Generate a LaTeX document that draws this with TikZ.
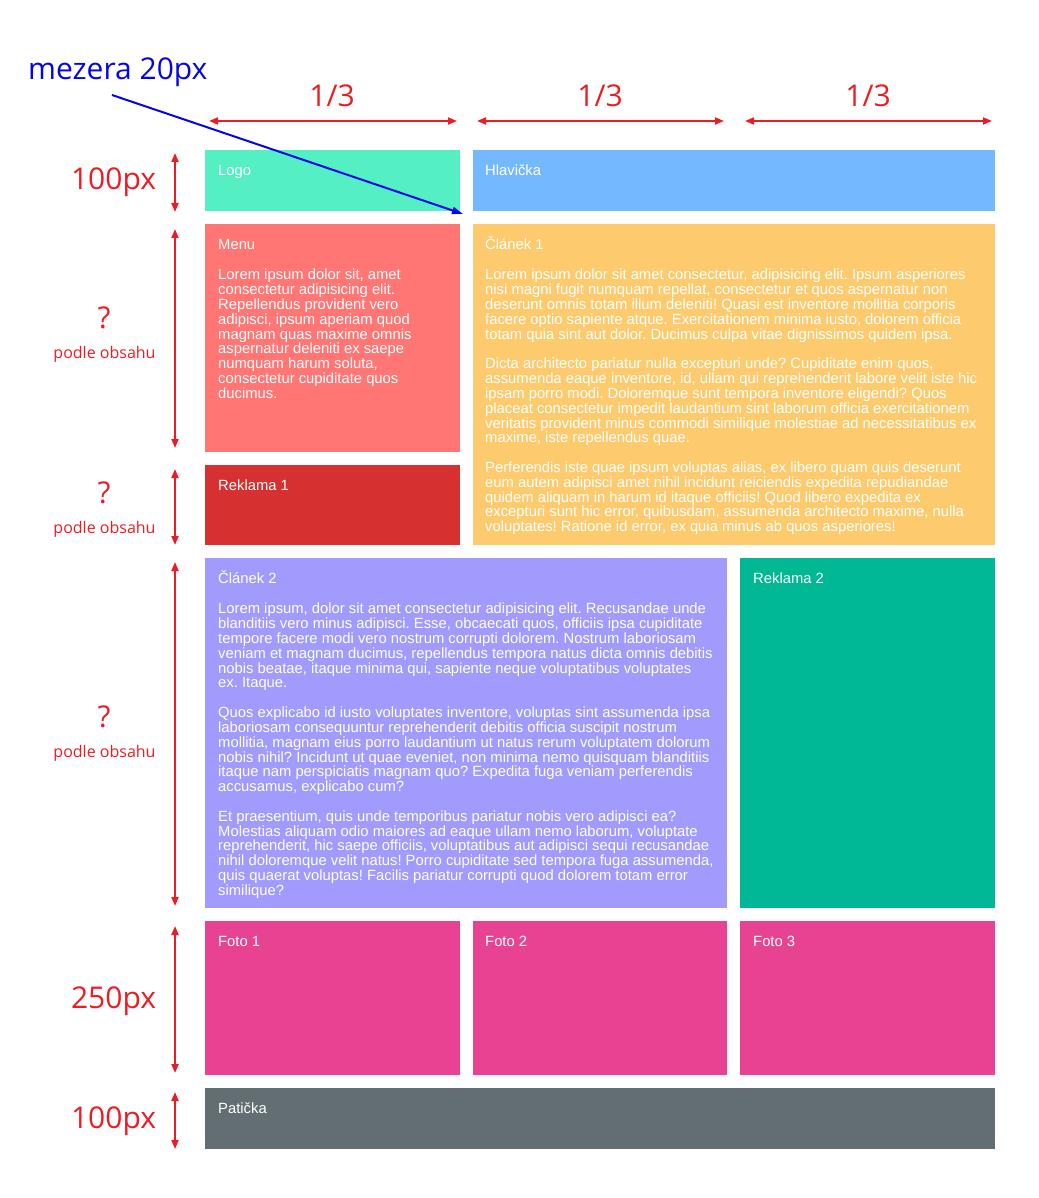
\documentclass[tikz,border=0pt]{standalone}
\usepackage{fontspec}
\setmainfont{Liberation Sans}
\newfontfamily\annot{Open Sans}
\usetikzlibrary{arrows.meta}
\frenchspacing
\definecolor{cLogo}{HTML}{55EFC4}
\definecolor{cHead}{HTML}{74B9FF}
\definecolor{cMenu}{HTML}{FF7675}
\definecolor{cArtA}{HTML}{FDCB6E}
\definecolor{cAdA}{HTML}{D63031}
\definecolor{cArtB}{HTML}{A29BFE}
\definecolor{cAdB}{HTML}{00B894}
\definecolor{cFoto}{HTML}{E84393}
\definecolor{cFoot}{HTML}{636E72}
\definecolor{annred}{HTML}{ED1C24}
\definecolor{annblue}{RGB}{5,5,235}
\tikzset{
  box/.style={draw=none, inner sep=0pt, outer sep=0pt, anchor=north west},
  boxtitle/.style={anchor=base west, inner sep=0pt, text=white, font=\frenchspacing\fontsize{14.8}{14.83}\selectfont},
  boxbody/.style={anchor=north west, inner sep=0pt, text=white, align=left, font=\frenchspacing\fontsize{14.8}{14.83}\selectfont},
  dimarrow/.style={draw=annred, line width=2pt, {Triangle[length=9pt,width=7pt]}-{Triangle[length=9pt,width=7pt]}},
  bigann/.style={anchor=base, inner sep=0pt, text=annred, font=\annot\fontsize{30}{32}\selectfont},
  smallann/.style={anchor=base, inner sep=0pt, text=annred, font=\annot\fontsize{16}{18}\selectfont},
}
\newcommand{\fst}{\rule{0pt}{11pt}}
\newcommand{\pgap}{\\[14.83pt]}
\begin{document}
\begin{tikzpicture}[x=1pt,y=-1pt]
\useasboundingbox (0,0) rectangle (1038,1198);
% boxes
\node[box, fill=cLogo, minimum width=255pt, minimum height=61pt] (logo) at (205,150) {};
\node[box, fill=cHead, minimum width=522pt, minimum height=61pt] (head) at (473,150) {};
\node[box, fill=cMenu, minimum width=255pt, minimum height=228pt] (menu) at (205,224) {};
\node[box, fill=cArtA, minimum width=522pt, minimum height=321pt] (artA) at (473,224) {};
\node[box, fill=cAdA, minimum width=255pt, minimum height=80pt] (adA) at (205,465) {};
\node[box, fill=cArtB, minimum width=522pt, minimum height=350pt] (artB) at (205,558) {};
\node[box, fill=cAdB, minimum width=255pt, minimum height=350pt] (adB) at (740,558) {};
\node[box, fill=cFoto, minimum width=255pt, minimum height=154pt] (fotoA) at (205,921) {};
\node[box, fill=cFoto, minimum width=254pt, minimum height=154pt] (fotoB) at (473,921) {};
\node[box, fill=cFoto, minimum width=255pt, minimum height=154pt] (fotoC) at (740,921) {};
\node[box, fill=cFoot, minimum width=790pt, minimum height=61pt] (foot) at (205,1088) {};
% titles
\node[boxtitle] (tLogo) at (218,175.5) {Logo};
\node[boxtitle] (tHead) at (485,175.5) {Hlavička};
\node[boxtitle] (tMenu) at (218,249.5) {Menu};
\node[boxtitle] (tArtA) at (485,249.5) {Článek 1};
\node[boxtitle] (tAdA) at (218,490.5) {Reklama 1};
\node[boxtitle] (tArtB) at (218,583.5) {Článek 2};
\node[boxtitle] (tAdB) at (753,583.5) {Reklama 2};
\node[boxtitle] (tFotoA) at (218,946.5) {Foto 1};
\node[boxtitle] (tFotoB) at (485,946.5) {Foto 2};
\node[boxtitle] (tFotoC) at (753,946.5) {Foto 3};
\node[boxtitle] (tFoot) at (218,1113.5) {Patička};
% bodies
\node[boxbody] (bMenu) at (218,268.5) {\fst Lorem ipsum dolor sit, amet\\
consectetur adipisicing elit.\\
Repellendus provident vero\\
adipisci, ipsum aperiam quod\\
magnam quas maxime omnis\\
aspernatur deleniti ex saepe\\
numquam harum soluta,\\
consectetur cupiditate quos\\
ducimus.};
\node[boxbody] (bArtA) at (485,268.5) {\fst Lorem ipsum dolor sit amet consectetur, adipisicing elit. Ipsum asperiores\\
nisi magni fugit numquam repellat, consectetur et quos aspernatur non\\
deserunt omnis totam illum deleniti! Quasi est inventore mollitia corporis\\
facere optio sapiente atque. Exercitationem minima iusto, dolorem officia\\
totam quia sint aut dolor. Ducimus culpa vitae dignissimos quidem ipsa.\pgap
Dicta architecto pariatur nulla excepturi unde? Cupiditate enim quos,\\
assumenda eaque inventore, id, ullam qui reprehenderit labore velit iste hic\\
ipsam porro modi. Doloremque sunt tempora inventore eligendi? Quos\\
placeat consectetur impedit laudantium sint laborum officia exercitationem\\
veritatis provident minus commodi similique molestiae ad necessitatibus ex\\
maxime, iste repellendus quae.\pgap
Perferendis iste quae ipsum voluptas alias, ex libero quam quis deserunt\\
eum autem adipisci amet nihil incidunt reiciendis expedita repudiandae\\
quidem aliquam in harum id itaque officiis! Quod libero expedita ex\\
excepturi sunt hic error, quibusdam, assumenda architecto maxime, nulla\\
voluptates! Ratione id error, ex quia minus ab quos asperiores!};
\node[boxbody] (bArtB) at (218,602.5) {\fst Lorem ipsum, dolor sit amet consectetur adipisicing elit. Recusandae unde\\
blanditiis vero minus adipisci. Esse, obcaecati quos, officiis ipsa cupiditate\\
tempore facere modi vero nostrum corrupti dolorem. Nostrum laboriosam\\
veniam et magnam ducimus, repellendus tempora natus dicta omnis debitis\\
nobis beatae, itaque minima qui, sapiente neque voluptatibus voluptates\\
ex. Itaque.\pgap
Quos explicabo id iusto voluptates inventore, voluptas sint assumenda ipsa\\
laboriosam consequuntur reprehenderit debitis officia suscipit nostrum\\
mollitia, magnam eius porro laudantium ut natus rerum voluptatem dolorum\\
nobis nihil? Incidunt ut quae eveniet, non minima nemo quisquam blanditiis\\
itaque nam perspiciatis magnam quo? Expedita fuga veniam perferendis\\
accusamus, explicabo cum?\pgap
Et praesentium, quis unde temporibus pariatur nobis vero adipisci ea?\\
Molestias aliquam odio maiores ad eaque ullam nemo laborum, voluptate\\
reprehenderit, hic saepe officiis, voluptatibus aut adipisci sequi recusandae\\
nihil doloremque velit natus! Porro cupiditate sed tempora fuga assumenda,\\
quis quaerat voluptas! Facilis pariatur corrupti quod dolorem totam error\\
similique?};
% column width arrows
\coordinate (h1a) at (209,121); \coordinate (h1b) at (457,121);
\coordinate (h2a) at (477,121); \coordinate (h2b) at (724,121);
\coordinate (h3a) at (745,121); \coordinate (h3b) at (992,121);
\draw[dimarrow] (h1a) -- (h1b);
\draw[dimarrow] (h2a) -- (h2b);
\draw[dimarrow] (h3a) -- (h3b);
\node[bigann] (w1) at (332,107) {1/3};
\node[bigann] (w2) at (600,107) {1/3};
\node[bigann] (w3) at (868,107) {1/3};
% row height arrows
\coordinate (v1a) at (175,153); \coordinate (v1b) at (175,212);
\coordinate (v2a) at (175,229); \coordinate (v2b) at (175,448);
\coordinate (v3a) at (175,469); \coordinate (v3b) at (175,545);
\coordinate (v4a) at (175,562); \coordinate (v4b) at (175,906);
\coordinate (v5a) at (175,926); \coordinate (v5b) at (175,1073);
\coordinate (v6a) at (175,1092); \coordinate (v6b) at (175,1149);
\draw[dimarrow] (v1a) -- (v1b);
\draw[dimarrow] (v2a) -- (v2b);
\draw[dimarrow] (v3a) -- (v3b);
\draw[dimarrow] (v4a) -- (v4b);
\draw[dimarrow] (v5a) -- (v5b);
\draw[dimarrow] (v6a) -- (v6b);
\node[bigann] (r1) at (113.5,190) {100px};
\node[bigann] (q1) at (104,328) {?};
\node[smallann] (p1) at (104.5,358) {podle obsahu};
\node[bigann] (q2) at (104,503.5) {?};
\node[smallann] (p2) at (104.5,533.5) {podle obsahu};
\node[bigann] (q3) at (104,727) {?};
\node[smallann] (p3) at (104.5,757.5) {podle obsahu};
\node[bigann] (r5) at (113.5,1008) {250px};
\node[bigann] (r6) at (113.5,1128) {100px};
% gap annotation
\node[anchor=base west, inner sep=0pt, text=annblue, font=\annot\fontsize{30}{32}\selectfont] (gap) at (28,79.5) {mezera 20px};
\coordinate (gapstart) at (112,95);
\coordinate (gapend) at (463,214);
\draw[draw=annblue, line width=2pt, -{Triangle[length=11pt,width=7pt]}] (gapstart) -- (gapend);
\end{tikzpicture}
\end{document}
